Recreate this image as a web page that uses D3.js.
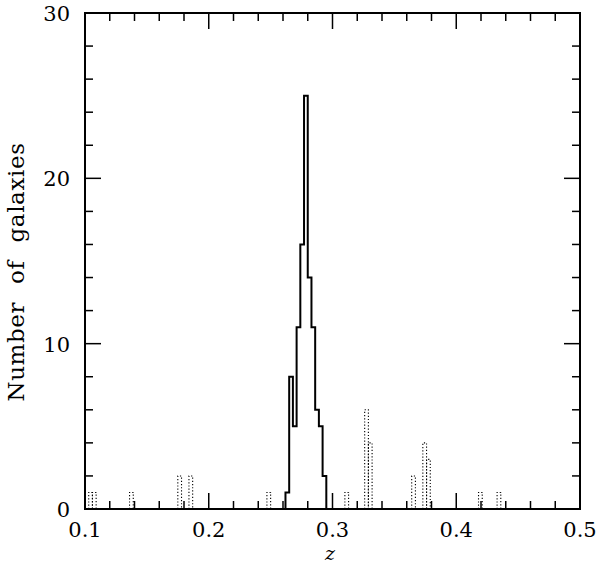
<!DOCTYPE html>
<html>
<head>
<meta charset="utf-8">
<script src="https://cdn.jsdelivr.net/npm/d3@7"></script>
<style>
    body { margin: 0; background: #fff; }
    text { font-family: 'DejaVu Serif', serif; fill: #000; }
</style>
</head>
<body>
<div id="main"></div>
<script>
// bin width of both histograms
const binWidth = 0.003;

// cluster members (solid line), bins start at 0.262
const clusterStarts = [0.262, 0.265, 0.268, 0.271, 0.274, 0.277, 0.280, 0.283, 0.286, 0.289, 0.292];
const clusterCounts = [1, 8, 5, 11, 16, 25, 14, 11, 6, 5, 2];

// foreground / background galaxies (dotted line)
const fieldStarts = [0.103, 0.106, 0.136, 0.175, 0.184, 0.247, 0.310, 0.326, 0.329, 0.364, 0.373, 0.376, 0.418, 0.433];
const fieldCounts = [1, 1, 1, 2, 2, 1, 1, 6, 4, 2, 4, 3, 1, 1];

const xTicks = [0.1, 0.2, 0.3, 0.4, 0.5];
const yTicks = [0, 10, 20, 30];

const w = 600;
const h = 568;
const padL = 85, padR = 580, padT = 13, padB = 509;

const x = d3.scaleLinear().domain([0.1, 0.5]).range([padL, padR]);
const y = d3.scaleLinear().domain([0, 30]).range([padB, padT]);

const svg = d3.select('#main')
    .append('svg')
    .attr('width', w)
    .attr('height', h)

// ticks, drawn inward on all four sides
const xMinor = d3.range(0.1, 0.5001, 0.02).map(d => +d.toFixed(2));
const yMinor = d3.range(0, 30.001, 2);

const tickG = svg.append('g')
    .attr('stroke', '#000')
    .attr('stroke-width', 1.5)

const isMajorX = d => xTicks.some(t => Math.abs(t - d) < 1e-6);
const isMajorY = d => yTicks.includes(d);

xMinor.forEach(d => {
    const len = isMajorX(d) ? 16 : 8;
    tickG.append('line').attr('x1', x(d)).attr('x2', x(d)).attr('y1', padB).attr('y2', padB - len);
    tickG.append('line').attr('x1', x(d)).attr('x2', x(d)).attr('y1', padT).attr('y2', padT + len);
})

yMinor.forEach(d => {
    const len = isMajorY(d) ? 16 : 8;
    tickG.append('line').attr('y1', y(d)).attr('y2', y(d)).attr('x1', padL).attr('x2', padL + len);
    tickG.append('line').attr('y1', y(d)).attr('y2', y(d)).attr('x1', padR).attr('x2', padR - len);
})

// dotted histogram: each bin as an open box
const field = fieldStarts.map((s, i) => ({ s: s, n: fieldCounts[i] }));

svg.append('g')
    .selectAll('path')
    .data(field)
    .enter()
    .append('path')
    .attr('d', d => `M${x(d.s)},${y(0)}V${y(d.n)}H${x(d.s + binWidth)}V${y(0)}`)
    .attr('fill', 'none')
    .attr('stroke', '#000')
    .attr('stroke-width', 1.1)
    .attr('stroke-dasharray', '1.2,2')

// solid histogram: a single step outline
const steps = [[clusterStarts[0], 0]]
    .concat(clusterStarts.map((s, i) => [s, clusterCounts[i]]))
    .concat([[clusterStarts[clusterStarts.length - 1] + binWidth, 0]]);

const stepLine = d3.line()
    .x(d => x(d[0]))
    .y(d => y(d[1]))
    .curve(d3.curveStepAfter);

svg.append('path')
    .datum(steps)
    .attr('d', stepLine)
    .attr('fill', 'none')
    .attr('stroke', '#000')
    .attr('stroke-width', 2)

// frame
svg.append('rect')
    .attr('x', padL)
    .attr('y', padT)
    .attr('width', padR - padL)
    .attr('height', padB - padT)
    .attr('fill', 'none')
    .attr('stroke', '#000')
    .attr('stroke-width', 2)

// tick labels
svg.append('g')
    .selectAll('text')
    .data(xTicks)
    .enter()
    .append('text')
    .attr('x', d => x(d))
    .attr('y', 537)
    .attr('text-anchor', 'middle')
    .style('font-size', '21px')
    .text(d => d3.format('.1f')(d))

svg.append('g')
    .selectAll('text')
    .data(yTicks)
    .enter()
    .append('text')
    .attr('x', 70)
    .attr('y', d => y(d) + 8)
    .attr('text-anchor', 'end')
    .style('font-size', '21px')
    .text(d => d)

// axis titles
svg.append('text')
    .attr('transform', 'translate(24, 272) rotate(-90)')
    .attr('text-anchor', 'middle')
    .style('font-size', '23px')
    .style('letter-spacing', '0.6px')
    .style('word-spacing', '10px')
    .text('Number of galaxies')

svg.append('text')
    .attr('x', 330)
    .attr('y', 560)
    .attr('text-anchor', 'middle')
    .style('font-size', '19px')
    .style('font-style', 'italic')
    .text('z')
</script>
</body>
</html>
